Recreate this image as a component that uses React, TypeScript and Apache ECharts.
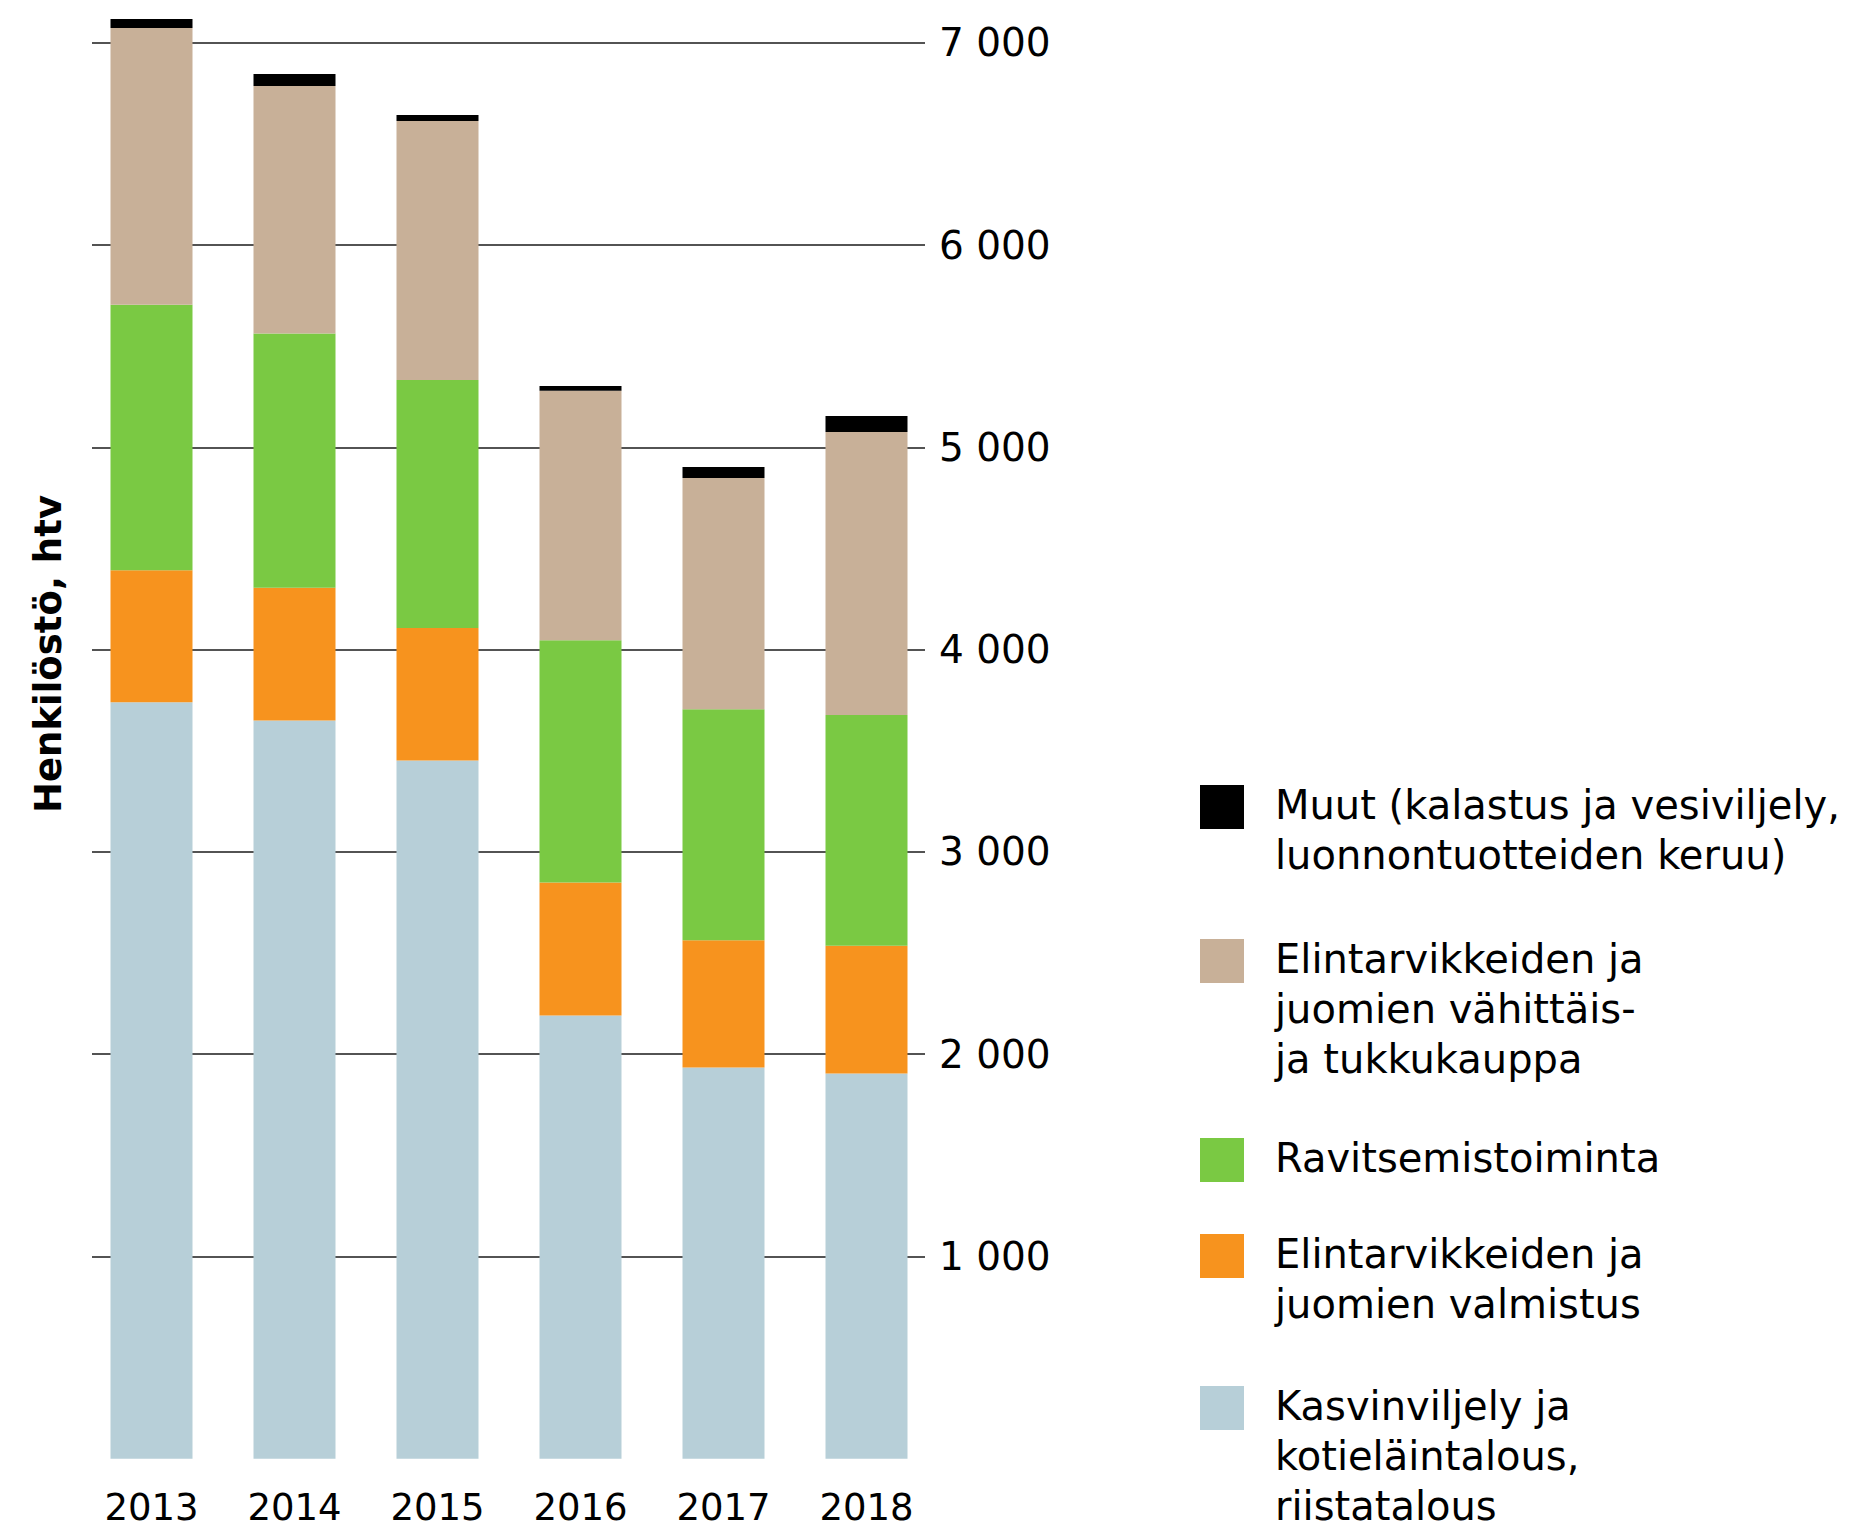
import React, { useEffect, useRef } from "react";
import * as echarts from "echarts";

const years = ["2013", "2014", "2015", "2016", "2017", "2018"];
const kasvinviljely = [3740, 3650, 3452, 2191, 1934, 1904];
const valmistus = [652, 655, 655, 658, 629, 632];
const ravitsemis = [1313, 1257, 1226, 1197, 1142, 1140];
const kauppa = [1368, 1224, 1280, 1233, 1143, 1399];
const muut = [44, 59, 30, 24, 54, 80];

const seriesNames = [
  "Kasvinviljely ja kotieläintalous, riistatalous",
  "Elintarvikkeiden ja juomien valmistus",
  "Ravitsemistoiminta",
  "Elintarvikkeiden ja juomien vähittäis- ja tukkukauppa",
  "Muut (kalastus ja vesiviljely, luonnontuotteiden keruu)",
];
const seriesColors = ["#B7CFD8", "#F7931E", "#7AC943", "#C8B098", "#000000"];
const seriesData = [kasvinviljely, valmistus, ravitsemis, kauppa, muut];

// legend, top to bottom
const legendLabels = [
  "Muut (kalastus ja vesiviljely,\nluonnontuotteiden keruu)",
  "Elintarvikkeiden ja\njuomien vähittäis-\nja tukkukauppa",
  "Ravitsemistoiminta",
  "Elintarvikkeiden ja\njuomien valmistus",
  "Kasvinviljely ja\nkotieläintalous,\nriistatalous",
];
const legendColors = ["#000000", "#C8B098", "#7AC943", "#F7931E", "#B7CFD8"];
const legendY = [807, 961, 1160, 1256, 1408];

const yTitle = "Henkilöstö, htv";
const FONT = "'DejaVu Sans', sans-serif";
const LH = 50;

export default function App() {
  const ref = useRef<HTMLDivElement>(null);
  useEffect(() => {
    document.body.style.margin = "0";
    const chart = echarts.init(ref.current!, null, { renderer: "svg" });
    const graphics: any[] = [
      {
        type: "text",
        x: 48,
        y: 654,
        rotation: Math.PI / 2,
        style: {
          text: yTitle,
          font: `bold 37px ${FONT}`,
          fill: "#000",
          align: "center",
          verticalAlign: "middle",
        },
      },
    ];
    legendLabels.forEach((lab, i) => {
      graphics.push({
        type: "rect",
        shape: { x: 1200, y: legendY[i] - 22, width: 44, height: 44 },
        style: { fill: legendColors[i] },
      });
      graphics.push({
        type: "text",
        x: 1275,
        y: legendY[i] - 2 - LH / 2,
        style: {
          text: lab,
          font: `40px ${FONT}`,
          lineHeight: LH,
          fill: "#000",
          align: "left",
          verticalAlign: "top",
        },
      });
    });
    chart.setOption({
      animation: false,
      backgroundColor: "#ffffff",
      grid: [
        { left: 80, width: 858, top: 2.2, bottom: 74.2, containLabel: false },
        { left: 92, width: 833, top: 42.7, bottom: 276.5, containLabel: false },
      ],
      xAxis: [
        {
          type: "category",
          gridIndex: 0,
          data: years,
          boundaryGap: true,
          axisLine: { show: false },
          axisTick: { show: false },
          axisLabel: { fontSize: 37, color: "#000", margin: 30, fontFamily: FONT },
        },
        { type: "value", gridIndex: 1, show: false, min: 0, max: 1 },
      ],
      yAxis: [
        {
          type: "value",
          gridIndex: 0,
          min: 0,
          max: 7200,
          show: false,
          splitLine: { show: false },
        },
        {
          type: "value",
          gridIndex: 1,
          position: "right",
          min: 1000,
          max: 7000,
          interval: 1000,
          axisLine: { show: false },
          axisTick: { show: false },
          splitLine: { show: true, lineStyle: { color: "#1a1a1a", width: 1.5 } },
          axisLabel: {
            fontSize: 39,
            color: "#000",
            margin: 14,
            fontFamily: FONT,
            formatter: (v: number) => {
              const s = String(v);
              return s.length > 3 ? s.slice(0, s.length - 3) + " " + s.slice(-3) : s;
            },
          },
        },
      ],
      series: seriesNames.map((name, i) => ({
        name,
        type: "bar",
        stack: "total",
        xAxisIndex: 0,
        yAxisIndex: 0,
        barWidth: 82,
        itemStyle: { color: seriesColors[i] },
        data: seriesData[i],
      })),
      graphic: graphics,
    });
    return () => chart.dispose();
  }, []);
  return <div ref={ref} style={{ width: 1870, height: 1533 }} />;
}
